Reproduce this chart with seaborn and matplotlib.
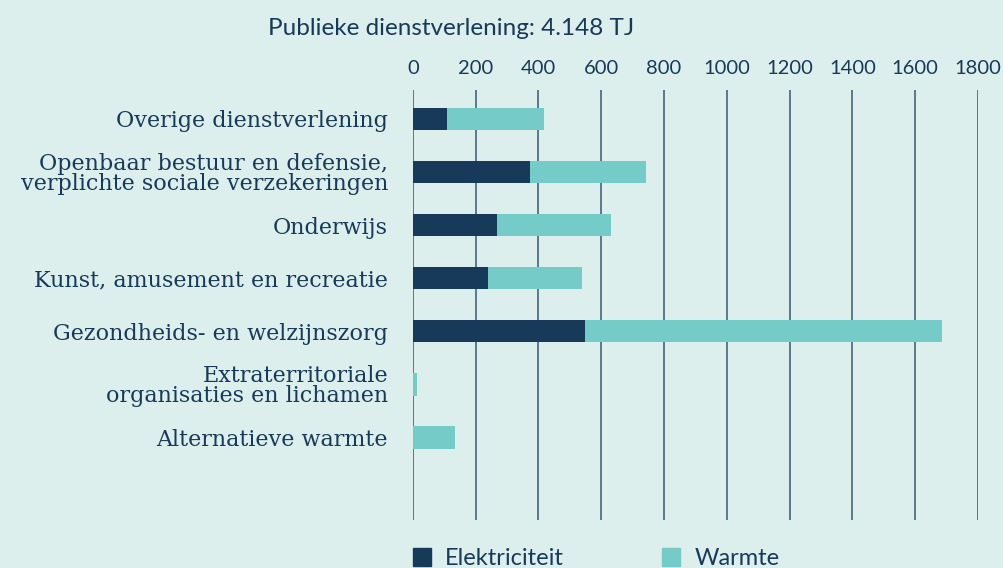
import pandas as pd
import matplotlib.pyplot as plt
import matplotlib.patches as mpatches
import seaborn as sns

# Data (TJ)
categories = [
    "Overige dienstverlening",
    "Openbaar bestuur en defensie,\nverplichte sociale verzekeringen",
    "Onderwijs",
    "Kunst, amusement en recreatie",
    "Gezondheids- en welzijnszorg",
    "Extraterritoriale\norganisaties en lichamen",
    "Alternatieve warmte",
]
elektriciteit = [108, 373, 268, 239, 548, 0, 0]
warmte = [309, 369, 363, 299, 1137, 13, 134]
xticks = [0, 200, 400, 600, 800, 1000, 1200, 1400, 1600, 1800]

navy = "#173a5a"
teal = "#74cbc8"
bg = "#dcefed"

df = pd.DataFrame({"categorie": categories, "Elektriciteit": elektriciteit, "Warmte": warmte})
df["totaal"] = df["Elektriciteit"] + df["Warmte"]

sns.set_theme(style="white")
plt.rcParams["font.family"] = ["Lato", "DejaVu Sans"]

fig = plt.figure(figsize=(10.04, 5.68), dpi=100, facecolor=bg)
ax = fig.add_axes([0.4113, 0.085, 0.5627, 0.757])
ax.set_facecolor(bg)

sns.barplot(data=df, x="totaal", y="categorie", color=teal, orient="h", width=0.42,
            saturation=1, linewidth=0, edgecolor="none", ax=ax, zorder=3)
sns.barplot(data=df, x="Elektriciteit", y="categorie", color=navy, orient="h", width=0.42,
            saturation=1, linewidth=0, edgecolor="none", ax=ax, zorder=4)

ax.set_xlim(0, 1800)
ax.set_ylim(7.55, -0.55)
ax.set_xticks(xticks)
ax.xaxis.tick_top()
ax.tick_params(axis="x", length=0, pad=9, labelsize=14.5, labelcolor=navy)
ax.tick_params(axis="y", length=0, pad=18, labelsize=16, labelcolor=navy)
for lab in ax.get_yticklabels():
    lab.set_family(["DejaVu Serif"])
    lab.set_linespacing(0.92)
ax.grid(axis="x", color="#4f6f84", linewidth=1.3, zorder=1)
ax.grid(axis="y", visible=False)
for s in ax.spines.values():
    s.set_visible(False)
ax.set_xlabel("")
ax.set_ylabel("")

fig.text(0.267, 0.950, "Publieke dienstverlening: 4.148 TJ", fontsize=17.5, color=navy,
         ha="left", va="center")

legend_items = [("Elektriciteit", navy, 0.411), ("Warmte", teal, 0.659)]
for label, colour, xpos in legend_items:
    fig.legend(handles=[mpatches.Patch(color=colour, label=label)], loc="center left",
               bbox_to_anchor=(xpos, 0.016), frameon=False, fontsize=17, labelcolor=navy,
               handlelength=0.78, handleheight=0.78, handletextpad=0.6,
               borderpad=0, borderaxespad=0)

fig.savefig("out.png", dpi=100, facecolor=bg)
